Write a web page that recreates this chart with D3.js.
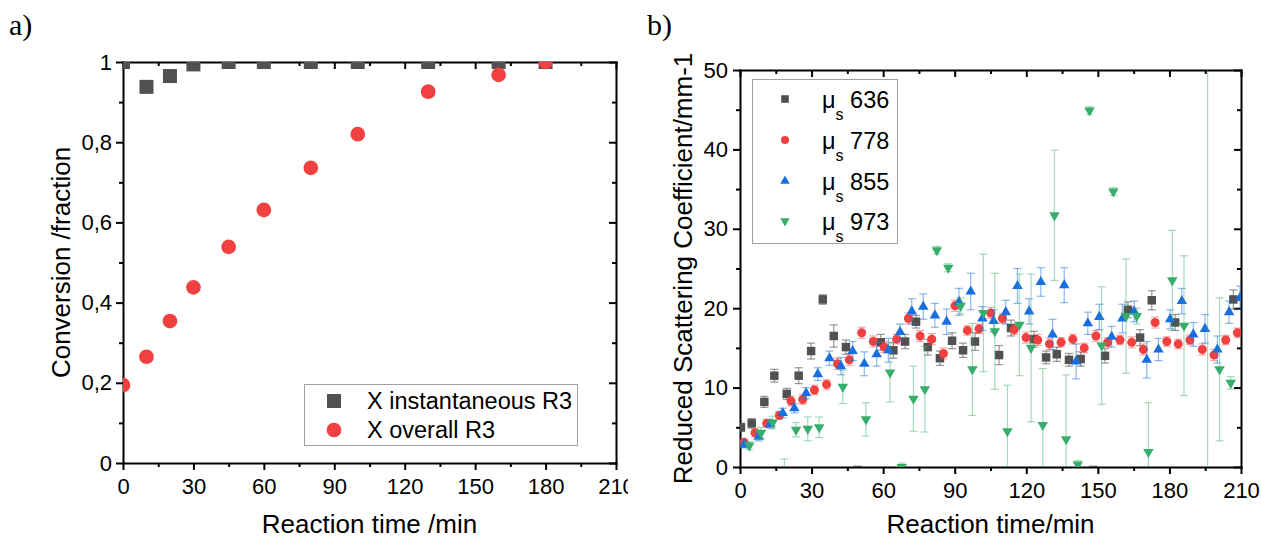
<!DOCTYPE html>
<html>
<head>
<meta charset="utf-8">
<script src="https://cdn.jsdelivr.net/npm/d3@7"></script>
<style>
  body { margin: 0; background: #fff; }
  svg { display: block; font-family: "Liberation Sans", Arial, sans-serif; }
</style>
</head>
<body>
<svg id="chart" width="1261" height="544"></svg>
<script>
// ---- panel a data ----
const timeA = [0, 10, 20, 30, 45, 60, 80, 100, 130, 160, 180];
const xInst = [1.0, 0.938, 0.965, 0.994, 1.0, 1.0, 1.0, 1.0, 1.0, 1.0, 1.0];
const xOverall = [0.194, 0.265, 0.354, 0.438, 0.539, 0.631, 0.736, 0.82, 0.926, 0.968, 1.0];
const xTicksA = [0, 30, 60, 90, 120, 150, 180, 210];
const yTicksA = [0, 0.2, 0.4, 0.6, 0.8, 1];

// ---- panel b data ----
const t636 = [0.4, 4.9, 10.2, 14.4, 19.6, 24.6, 29.8, 34.7, 39.3, 44.4, 49.3, 59.0, 64.3, 69.2, 73.8, 78.7, 83.8, 88.9, 93.5, 98.5,
  108.6, 113.6, 123.2, 128.3, 132.8, 137.9, 142.8, 148.1, 153.0, 162.6, 167.7, 172.6, 182.4, 206.8];
const v636 = [5.0, 5.5, 8.2, 11.5, 9.2, 11.5, 14.6, 21.1, 16.5, 15.1, -0.4, 15.7, 14.7, 15.8, 18.3, 15.1, 13.7, 15.9, 14.7, 15.8,
  14.1, 17.5, 16.1, 13.8, 14.2, 13.5, 13.6, -0.4, 14.0, 19.8, 16.3, 21.0, 18.2, 21.1];
const e636 = [0.5, 0.6, 0.7, 0.8, 0.7, 1.0, 1.0, 0.6, 1.4, 0.9, 0.5, 1.0, 1.0, 0.9, 0.8, 1.0, 0.9, 1.0, 0.9, 1.1,
  1.2, 1.0, 1.0, 0.8, 0.9, 0.8, 0.9, 0.5, 0.9, 1.0, 1.0, 1.2, 1.0, 1.2];

const t778 = [1.7, 6.3, 11.2, 16.5, 21.4, 26.3, 31.2, 36.3, 40.9, 45.8, 51.0, 55.9, 60.5, 65.7, 70.6, 75.5, 80.4, 85.3, 90.1, 95.3,
  100.2, 105.1, 110.0, 114.9, 119.9, 124.8, 129.7, 134.6, 139.5, 144.3, 149.2, 154.1, 159.3, 164.2, 169.1, 174.0, 178.9, 183.7, 188.6, 193.8,
  198.7, 203.6, 208.5];
const v778 = [3.1, 4.3, 5.5, 6.5, 8.3, 8.5, 9.7, 10.4, 13.0, 13.5, 16.9, 15.8, 15.1, 16.1, 18.7, 16.5, 16.1, 14.3, 20.3, 17.2,
  17.4, 19.4, 18.7, 17.3, 16.3, 16.0, 15.5, 15.7, 16.1, 15.0, 16.5, 15.7, 16.0, 15.7, 14.8, 18.2, 15.8, 15.5, 16.0, 14.8,
  14.1, 16.0, 16.9];
const e778 = [0.4, 0.5, 0.5, 0.5, 0.6, 0.6, 0.6, 0.6, 0.7, 0.7, 0.7, 0.7, 0.7, 0.6, 0.7, 0.7, 0.7, 0.7, 0.7, 0.6,
  0.6, 0.7, 0.6, 0.6, 0.7, 0.7, 0.7, 0.6, 0.6, 0.6, 0.7, 0.6, 0.6, 0.7, 0.7, 0.7, 0.6, 0.6, 0.6, 0.7,
  0.7, 0.6, 0.6];

const t855 = [1.8, 7.8, 12.7, 17.9, 22.8, 27.7, 32.6, 37.5, 42.3, 47.2, 52.1, 57.3, 62.2, 67.1, 72.0, 76.8, 81.7, 86.6, 91.8, 96.7,
  101.6, 106.3, 111.4, 116.3, 121.2, 126.1, 131.0, 135.9, 140.9, 145.8, 150.6, 155.8, 160.3, 165.2, 170.5, 175.4, 180.3, 185.2, 190.0, 194.9,
  200.1, 205.0, 209.6];
const v855 = [2.8, 3.8, 5.4, 6.8, 7.4, 9.3, 11.7, 13.7, 12.7, 14.6, 13.0, 14.2, 14.7, 17.0, 19.6, 20.2, 19.1, 18.3, 20.8, 22.1,
  18.7, 18.4, 19.5, 22.8, 19.6, 23.3, 16.7, 22.9, 13.3, 18.1, 18.9, 16.4, 18.7, 19.6, 13.5, 14.8, 18.6, 20.9, 16.7, 17.4,
  14.8, 19.5, 21.3];
const e855 = [0.4, 0.5, 0.5, 0.6, 0.6, 0.7, 0.8, 0.9, 1.1, 1.2, 1.5, 1.5, 1.5, 1.0, 1.6, 1.6, 1.5, 1.6, 1.7, 2.3,
  1.5, 1.4, 1.5, 2.2, 1.6, 1.8, 1.9, 2.2, 2.2, 1.4, 1.6, 1.3, 1.8, 1.3, 2.3, 1.4, 1.2, 1.6, 1.5, 1.8,
  1.7, 1.4, 1.5];

const t973 = [3.9, 8.8, 13.7, 18.6, 23.5, 28.4, 33.2, 43.1, 52.8, 62.9, 67.8, 72.7, 77.5, 82.5, 87.3, 92.5, 97.4, 102.0, 106.8, 112.1,
  117.1, 122.0, 126.9, 131.8, 136.7, 141.6, 146.5, 151.6, 156.5, 161.8, 166.3, 171.2, 181.2, 186.1, 196.0, 201.0, 205.7];
const v973 = [2.7, 4.3, 5.6, -3.0, 4.7, 4.8, 5.0, 10.1, 6.0, 11.9, 0.0, 8.6, 9.8, 27.3, 25.1, 20.3, 12.3, 19.4, 17.1, 4.5,
  17.9, 15.0, 5.3, 31.7, 3.5, 0.3, 44.9, 15.3, 34.7, 19.0, 19.0, 1.9, 23.5, 17.8, -6.0, 12.3, 10.6];
const e973 = [0.5, 0.7, 0.8, 4.0, 0.9, 1.5, 1.3, 2.1, 2.1, 3.7, 0.5, 4.1, 5.4, 0.5, 0.5, 1.0, 5.8, 7.4, 7.3, 5.8,
  6.4, 9.3, 7.1, 8.2, 8.1, 0.5, 0.5, 7.4, 0.5, 7.2, 1.0, 6.2, 6.3, 8.8, 60, 9.0, 0.8];

const xTicksB = [0, 30, 60, 90, 120, 150, 180, 210];
const yTicksB = [0, 10, 20, 30, 40, 50];

const gray = "#515151", red = "#f14040", blue = "#1a6fdf", green = "#37ad6b";

const svg = d3.select("#chart");
const defs = svg.append("defs");

// scales
const xA = d3.scaleLinear().domain([0, 210]).range([123, 616]);
const yA = d3.scaleLinear().domain([0, 1]).range([463, 62]);
const xB = d3.scaleLinear().domain([0, 210]).range([740, 1241]);
const yB = d3.scaleLinear().domain([0, 50]).range([467, 70]);

function clip(id, x, y, w, h) {
  defs.append("clipPath").attr("id", id).append("rect")
    .attr("x", x).attr("y", y).attr("width", w).attr("height", h);
  return `url(#${id})`;
}

// draw the four axes of a frame, ticks out on bottom/left, in on top/right
function drawFrame(g, x, y, xTicks, yTicks, yFmt, xMinor, yMinor, yPad) {
  const x0 = x.range()[0], x1 = x.range()[1];
  const y0 = y.range()[0], y1 = y.range()[1];

  const bottom = g.append("g").attr("transform", `translate(0,${y0})`)
    .call(d3.axisBottom(x).tickValues(xTicks).tickSize(7).tickPadding(8).tickSizeOuter(0));
  g.append("g").attr("transform", `translate(0,${y0})`)
    .call(d3.axisBottom(x).tickValues(xMinor).tickSize(4).tickFormat("").tickSizeOuter(0))
    .select(".domain").remove();

  const left = g.append("g").attr("transform", `translate(${x0},0)`)
    .call(d3.axisLeft(y).tickValues(yTicks).tickSize(7).tickPadding(yPad).tickSizeOuter(0).tickFormat(yFmt));
  g.append("g").attr("transform", `translate(${x0},0)`)
    .call(d3.axisLeft(y).tickValues(yMinor).tickSize(4).tickFormat("").tickSizeOuter(0))
    .select(".domain").remove();

  g.append("g").attr("transform", `translate(0,${y1})`)
    .call(d3.axisTop(x).tickValues(xTicks).tickSize(-7).tickFormat("").tickSizeOuter(0));
  g.append("g").attr("transform", `translate(0,${y1})`)
    .call(d3.axisTop(x).tickValues(xMinor).tickSize(-4).tickFormat("").tickSizeOuter(0))
    .select(".domain").remove();

  g.append("g").attr("transform", `translate(${x1},0)`)
    .call(d3.axisRight(y).tickValues(yTicks).tickSize(-7).tickFormat("").tickSizeOuter(0));
  g.append("g").attr("transform", `translate(${x1},0)`)
    .call(d3.axisRight(y).tickValues(yMinor).tickSize(-4).tickFormat("").tickSizeOuter(0))
    .select(".domain").remove();

  g.selectAll(".domain").attr("stroke", "#000").attr("stroke-width", 2).attr("stroke-linecap", "square");
  g.selectAll(".tick line").attr("stroke", "#000").attr("stroke-width", 2);
  g.selectAll(".tick text").attr("font-family", "Liberation Sans, Arial, sans-serif")
    .attr("font-size", 22).attr("fill", "#000");
}

// ================= panel a =================
const gA = svg.append("g").attr("clip-path", clip("panelA", 0, 0, 628, 544));

gA.append("text").attr("x", 9).attr("y", 35)
  .attr("font-family", "Liberation Serif, Times New Roman, serif").attr("font-size", 30)
  .text("a)");

const fmtA = d => d === 0 ? "0" : d === 1 ? "1" : d3.format(".1f")(d).replace(".", ",");
drawFrame(gA, xA, yA, xTicksA, yTicksA, fmtA,
  d3.range(15, 210, 30), d3.range(0.1, 1, 0.2), 4);

const plotA = gA.append("g").attr("clip-path", clip("plotA", 123, 62, 493, 401));

const sqA = d3.symbol().type(d3.symbolSquare).size(196);
const ciA = d3.symbol().type(d3.symbolCircle).size(170);

plotA.selectAll(".inst").data(timeA).join("path")
  .attr("class", "inst")
  .attr("d", sqA)
  .attr("transform", (d, i) => `translate(${xA(d)},${yA(xInst[i])})`)
  .attr("fill", gray);

plotA.selectAll(".overall").data(timeA).join("path")
  .attr("class", "overall")
  .attr("d", ciA)
  .attr("transform", (d, i) => `translate(${xA(d)},${yA(xOverall[i])})`)
  .attr("fill", red);

// axis titles a
gA.append("text")
  .attr("x", (xA.range()[0] + xA.range()[1]) / 2).attr("y", 533)
  .attr("text-anchor", "middle").attr("font-size", 26)
  .text("Reaction time /min");
gA.append("text")
  .attr("transform", `translate(70,${(yA.range()[0] + yA.range()[1]) / 2}) rotate(-90)`)
  .attr("text-anchor", "middle").attr("font-size", 26)
  .text("Conversion /fraction");

// legend a
const legA = gA.append("g");
legA.append("rect").attr("x", 304.5).attr("y", 384.5).attr("width", 273).attr("height", 61)
  .attr("fill", "#fff").attr("stroke", "#a0a0a0").attr("stroke-width", 1);
const legAItems = [
  { label: "X instantaneous R3", sym: sqA, color: gray, y: 401 },
  { label: "X overall R3", sym: ciA, color: red, y: 430 }
];
legAItems.forEach(it => {
  legA.append("path").attr("d", it.sym).attr("transform", `translate(334,${it.y})`).attr("fill", it.color);
  legA.append("text").attr("x", 367).attr("y", it.y + 8).attr("font-size", 23.5).text(it.label);
});

// ================= panel b =================
const gB = svg.append("g");

gB.append("text").attr("x", 647).attr("y", 35)
  .attr("font-family", "Liberation Serif, Times New Roman, serif").attr("font-size", 30)
  .text("b)");

drawFrame(gB, xB, yB, xTicksB, yTicksB, d3.format("d"),
  d3.range(15, 210, 30), d3.range(5, 50, 10), 5);

const plotB = gB.append("g").attr("clip-path", clip("plotB", 740, 70, 501, 397));

const series = [
  { t: t636, v: v636, e: e636, color: gray, type: d3.symbolSquare, size: 72, rot: 0, ebOp: 0.6 },
  { t: t778, v: v778, e: e778, color: red, type: d3.symbolCircle, size: 64, rot: 0, ebOp: 0.45 },
  { t: t855, v: v855, e: e855, color: blue, type: d3.symbolTriangle, size: 48, rot: 0, ebOp: 0.5 },
  { t: t973, v: v973, e: e973, color: green, type: d3.symbolTriangle, size: 48, rot: 180, ebOp: 0.45 }
];

series.forEach((s, k) => {
  const pts = s.t.map((t, i) => ({ t, v: s.v[i], e: s.e[i] }));
  const g = plotB.append("g");
  const eb = g.append("g").attr("stroke", s.color).attr("stroke-opacity", s.ebOp).attr("stroke-width", 1.2);
  eb.selectAll("line.v").data(pts).join("line").attr("class", "v")
    .attr("x1", d => xB(d.t)).attr("x2", d => xB(d.t))
    .attr("y1", d => yB(d.v - d.e)).attr("y2", d => yB(d.v + d.e));
  eb.selectAll("line.cap-hi").data(pts).join("line").attr("class", "cap-hi")
    .attr("x1", d => xB(d.t) - 4).attr("x2", d => xB(d.t) + 4)
    .attr("y1", d => yB(d.v + d.e)).attr("y2", d => yB(d.v + d.e));
  eb.selectAll("line.cap-lo").data(pts).join("line").attr("class", "cap-lo")
    .attr("x1", d => xB(d.t) - 4).attr("x2", d => xB(d.t) + 4)
    .attr("y1", d => yB(d.v - d.e)).attr("y2", d => yB(d.v - d.e));
  const sym = d3.symbol().type(s.type).size(s.size);
  g.selectAll("path").data(pts).join("path")
    .attr("d", sym)
    .attr("transform", d => `translate(${xB(d.t)},${yB(d.v)}) rotate(${s.rot})`)
    .attr("fill", s.color);
});

// axis titles b
gB.append("text")
  .attr("x", (xB.range()[0] + xB.range()[1]) / 2).attr("y", 533)
  .attr("text-anchor", "middle").attr("font-size", 26)
  .text("Reaction time/min");
gB.append("text")
  .attr("transform", `translate(692,${(yB.range()[0] + yB.range()[1]) / 2}) rotate(-90)`)
  .attr("text-anchor", "middle").attr("font-size", 26)
  .text("Reduced Scattering Coefficient/mm-1");

// legend b
const legB = gB.append("g");
legB.append("rect").attr("x", 752.5).attr("y", 79.5).attr("width", 145).attr("height", 164)
  .attr("fill", "#fff").attr("stroke", "#a0a0a0").attr("stroke-width", 1);
const legBLabels = ["636", "778", "855", "973"];
const legBY = [99, 140, 181, 221];
series.forEach((s, k) => {
  const sym = d3.symbol().type(s.type).size(s.size * 0.8);
  legB.append("path").attr("d", sym)
    .attr("transform", `translate(785,${legBY[k]}) rotate(${s.rot})`).attr("fill", s.color);
  const txt = legB.append("text").attr("x", 822).attr("y", legBY[k] + 9).attr("font-size", 23.5);
  txt.append("tspan").text("\u03bc");
  txt.append("tspan").attr("font-size", 16).attr("dy", 12).text("s");
  txt.append("tspan").attr("dy", -12).text(" " + legBLabels[k]);
});
</script>
</body>
</html>
